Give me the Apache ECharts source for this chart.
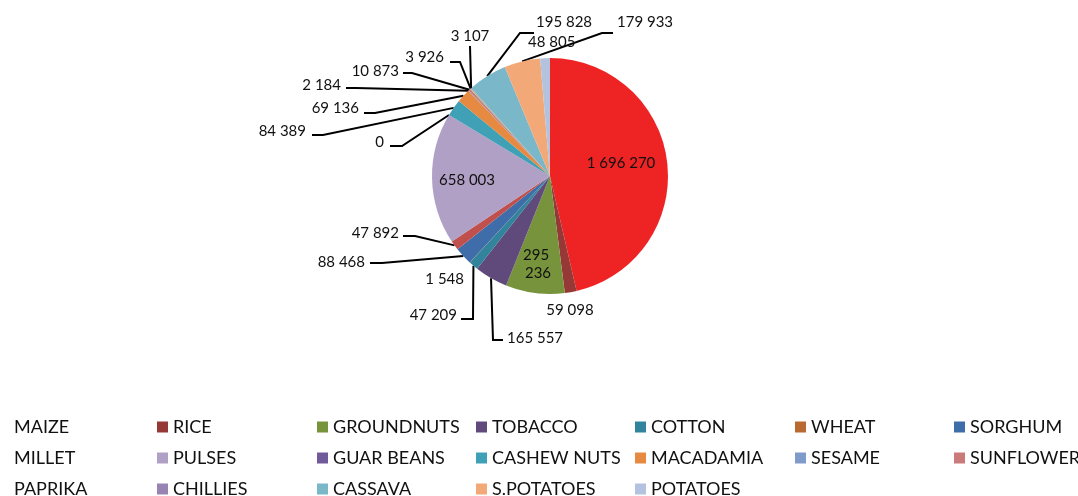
<!DOCTYPE html>
<html>
<head>
<meta charset="utf-8">
<script src="https://cdn.jsdelivr.net/npm/echarts@6/dist/echarts.min.js"></script>
<style>
html,body{margin:0;padding:0;background:#fff;}
#chart{width:1078px;height:496px;}
</style>
</head>
<body>
<div id="chart"></div>
<script>
// ---- data ----
const categories = ['MAIZE','RICE','GROUNDNUTS','TOBACCO','COTTON','WHEAT','SORGHUM','MILLET','PULSES','GUAR BEANS','CASHEW NUTS','MACADAMIA','SESAME','SUNFLOWER','PAPRIKA','CHILLIES','CASSAVA','S.POTATOES','POTATOES'];
const values = [1696270, 59098, 295236, 165557, 47209, 1548, 88468, 47892, 658003, 0, 84389, 69136, 2184, 10873, 3926, 3107, 195828, 179933, 48805];

// ---- styles ----
const colors = ['#EE2424','#953836','#77933C','#604A7B','#31849B','#B96A31','#3E6DAA','#C0504D','#B1A0C6','#705A9A','#40A0B6','#E58A40','#7E9BCB','#C97A79','#AFC97A','#9884B3','#7AB7C9','#F3A877','#B3C2DE'];
const insideLabels = [0, 2, 8];
const noLineLabels = [1, 5, 18];
// label anchor layout (x, y, align, bend point, end point)
const labelLayoutCfg = [
  {x:621, y:163, align:'center'},
  {x:570, y:310, align:'center'},
  {x:538, y:264, align:'center'},
  {x:507, y:338, align:'left',   line:[[493,340],[503,340]]},
  {x:457, y:315, align:'right',  line:[[473,319],[461,319]]},
  {x:464, y:279, align:'right'},
  {x:365, y:262, align:'right',  line:[[382,263],[370,263]]},
  {x:399, y:233, align:'right',  line:[[415,236],[403,236]]},
  {x:467, y:180, align:'center'},
  {x:384, y:142, align:'right',  line:[[402,146],[390,146]]},
  {x:306, y:131, align:'right',  line:[[323,135],[312,135]]},
  {x:359, y:108, align:'right',  line:[[375,113],[364,113]]},
  {x:341, y:85,  align:'right',  line:[[356,88],[346,88]]},
  {x:399, y:71,  align:'right',  line:[[412,73],[403,73]]},
  {x:444, y:57,  align:'right',  line:[[460,62],[450,62]]},
  {x:470, y:36,  align:'center', line:[[470,46],[470,46]]},
  {x:536, y:22,  align:'left',   line:[[520,33],[534,33]]},
  {x:617, y:22,  align:'left',   line:[[602,33],[613,33]]},
  {x:528, y:42,  align:'left'}
];

const FONT = 'Lato, "Open Sans", sans-serif';
function fmt(v){ return String(v).replace(/\B(?=(\d{3})+(?!\d))/g, ' '); }

const pieData = categories.map((name, i) => {
  const item = { name: name, value: values[i], itemStyle: { color: colors[i] } };
  if (insideLabels.indexOf(i) >= 0) {
    item.label = { position: 'inside' };
    item.labelLine = { show: false };
  }
  if (noLineLabels.indexOf(i) >= 0) {
    item.labelLine = { show: false };
  }
  if (i === 2) {
    item.label = { position: 'inside', width: 30, overflow: 'break', lineHeight: 18 };
  }
  return item;
});

// legend columns (Excel-style grid)
const columns = [[0,7,14],[1,8,15],[2,9,16],[3,10,17],[4,11,18],[5,12],[6,13]];
const legends = columns.map((col, k) => ({
  type: 'plain',
  orient: 'vertical',
  left: Math.round(14 + 159.3 * k - 16),
  top: 417,
  height: 140,
  padding: 0,
  itemWidth: 11,
  itemHeight: 11,
  itemGap: 11,
  selectedMode: false,
  icon: 'rect',
  itemStyle: k === 0 ? { opacity: 0 } : {},
  textStyle: { fontFamily: FONT, fontSize: 18, lineHeight: 20, color: '#111' },
  data: col.map(i => categories[i])
}));

const chart = echarts.init(document.getElementById('chart'), null, { renderer: 'canvas' });
chart.setOption({
  animation: false,
  backgroundColor: '#fff',
  legend: legends,
  series: [{
    type: 'pie',
    center: [550, 176],
    radius: 118,
    startAngle: 90,
    clockwise: true,
    avoidLabelOverlap: false,
    emphasis: { disabled: true },
    data: pieData,
    label: {
      show: true,
      position: 'outside',
      fontFamily: FONT,
      fontSize: 15,
      color: '#111',
      formatter: p => fmt(p.value)
    },
    labelLine: {
      show: true,
      smooth: false,
      lineStyle: { color: '#000', width: 2 }
    },
    labelLayout: function (params) {
      const cfg = labelLayoutCfg[params.dataIndex];
      const out = { x: cfg.x, y: cfg.y, align: cfg.align, verticalAlign: 'middle' };
      if (cfg.line && params.labelLinePoints && params.labelLinePoints.length) {
        const edge = params.labelLinePoints[0];
        out.labelLinePoints = [edge, cfg.line[0], cfg.line[1]];
      }
      return out;
    }
  }]
});
</script>
</body>
</html>
